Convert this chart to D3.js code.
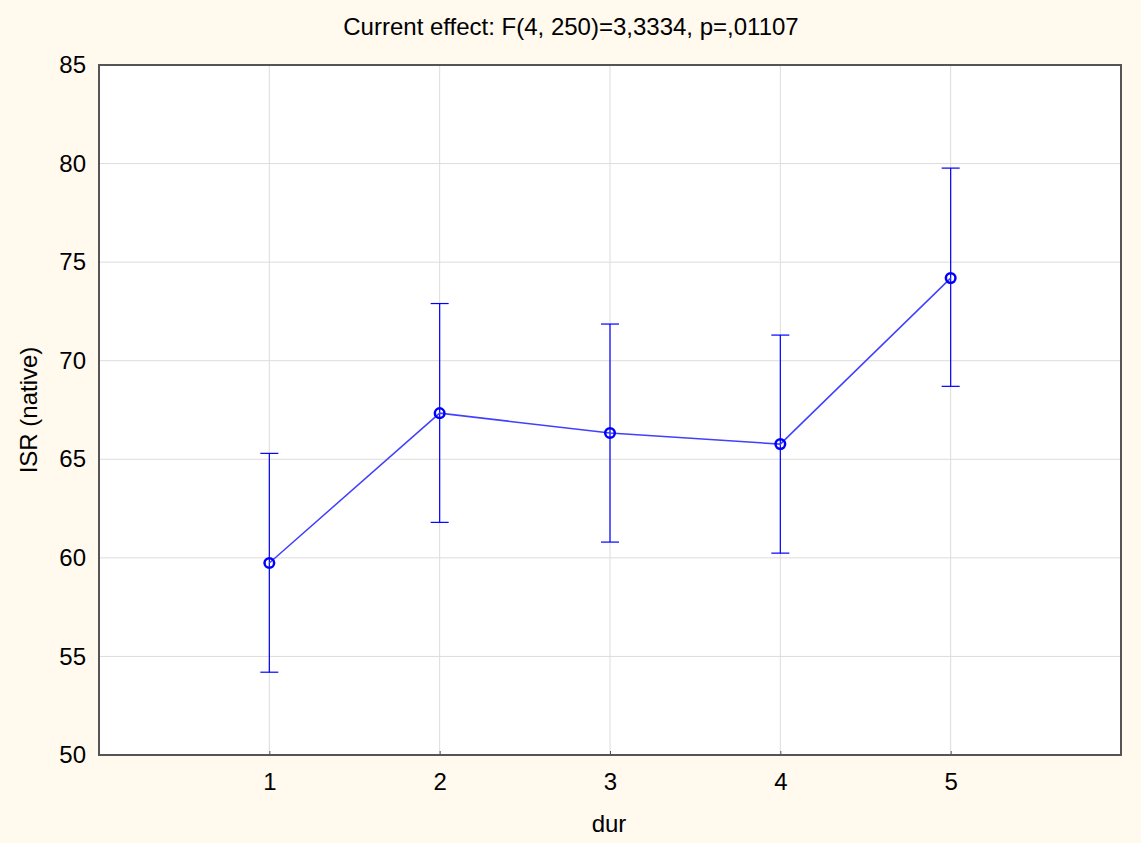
<!DOCTYPE html>
<html>
<head>
<meta charset="utf-8">
<script src="https://cdn.jsdelivr.net/npm/d3@7"></script>
<style>
  body { margin: 0; background: #fff9ee; }
  text { font-family: Arial, "Liberation Sans", sans-serif; fill: #000; }
</style>
</head>
<body>
<svg class="chart"></svg>
<script>
var categories = [1, 2, 3, 4, 5];
var means = [59.74, 67.34, 66.33, 65.77, 74.19];
var upper = [65.30, 72.90, 71.86, 71.30, 79.77];
var lower = [54.20, 61.80, 60.80, 60.24, 68.70];
var yTicks = [50, 55, 60, 65, 70, 75, 80, 85];
var title = "Current effect: F(4, 250)=3,3334, p=,01107";

var margin = { top: 65, bottom: 88, right: 20, left: 99 },
    width = 1141 - margin.left - margin.right,
    height = 843 - margin.top - margin.bottom;

var svg = d3.select(".chart")
    .attr("width", 1141)
    .attr("height", 843);

svg.append("rect")
    .attr("width", 1141).attr("height", 843)
    .attr("fill", "#fff9ee");

var chart = svg.append("g")
    .attr("transform", "translate(" + margin.left + "," + margin.top + ")");

var x = d3.scaleLinear().domain([0, 6]).range([0, width]);
var y = d3.scaleLinear().domain([50, 85]).range([height, 0]);

chart.append("rect")
    .attr("width", width).attr("height", height)
    .attr("fill", "#fff");

// grid
chart.selectAll(".hgrid").data(yTicks.slice(1, -1)).enter().append("line")
    .attr("x1", 0).attr("x2", width)
    .attr("y1", function(d) { return y(d); }).attr("y2", function(d) { return y(d); })
    .attr("stroke", "#dcdcdc").attr("stroke-width", 1);

chart.selectAll(".vgrid").data(categories).enter().append("line")
    .attr("x1", function(d) { return x(d); }).attr("x2", function(d) { return x(d); })
    .attr("y1", 0).attr("y2", height)
    .attr("stroke", "#dcdcdc").attr("stroke-width", 1);

// axes
var xAxis = chart.append("g")
    .attr("transform", "translate(0," + height + ")")
    .call(d3.axisBottom(x).tickValues(categories).tickFormat(d3.format("d"))
        .tickSize(4).tickPadding(14));
var yAxis = chart.append("g")
    .call(d3.axisLeft(y).tickValues(yTicks).tickSize(0).tickPadding(13));
[xAxis, yAxis].forEach(function(a) {
    a.select(".domain").remove();
    a.selectAll("text").style("font-size", "24px");
});
xAxis.selectAll(".tick line").attr("y2", -4).attr("stroke", "#555");

// frame
chart.append("rect")
    .attr("width", width).attr("height", height)
    .attr("fill", "none").attr("stroke", "#555").attr("stroke-width", 2);

// error bars
var data = categories.map(function(c, i) {
    return { c: c, m: means[i], hi: upper[i], lo: lower[i] };
});

chart.selectAll(".err").data(data).enter().append("line")
    .attr("x1", function(d) { return x(d.c); }).attr("x2", function(d) { return x(d.c); })
    .attr("y1", function(d) { return y(d.hi); }).attr("y2", function(d) { return y(d.lo); })
    .attr("stroke", "#0000ff").attr("stroke-width", 1.2);

["hi", "lo"].forEach(function(k) {
    chart.selectAll(".cap-" + k).data(data).enter().append("line")
        .attr("x1", function(d) { return x(d.c) - 9; }).attr("x2", function(d) { return x(d.c) + 9; })
        .attr("y1", function(d) { return y(d[k]); }).attr("y2", function(d) { return y(d[k]); })
        .attr("stroke", "#0000ff").attr("stroke-width", 1.2);
});

var line = d3.line()
    .x(function(d) { return x(d.c); })
    .y(function(d) { return y(d.m); });

chart.append("path")
    .datum(data)
    .attr("d", line)
    .attr("fill", "none")
    .attr("stroke", "#4040ff").attr("stroke-width", 1.5);

chart.selectAll(".pt").data(data).enter().append("circle")
    .attr("cx", function(d) { return x(d.c); })
    .attr("cy", function(d) { return y(d.m); })
    .attr("r", 4.8)
    .attr("fill", "none")
    .attr("stroke", "#0000ff").attr("stroke-width", 2.5);

// labels
svg.append("text")
    .attr("x", 571).attr("y", 35)
    .attr("text-anchor", "middle")
    .style("font-size", "24px")
    .text(title);

svg.append("text")
    .attr("x", 609).attr("y", 832)
    .attr("text-anchor", "middle")
    .style("font-size", "24px")
    .text("dur");

svg.append("text")
    .attr("transform", "translate(37," + (margin.top + height / 2) + ") rotate(-90)")
    .attr("text-anchor", "middle")
    .style("font-size", "24px")
    .text("ISR (native)");
</script>
</body>
</html>
